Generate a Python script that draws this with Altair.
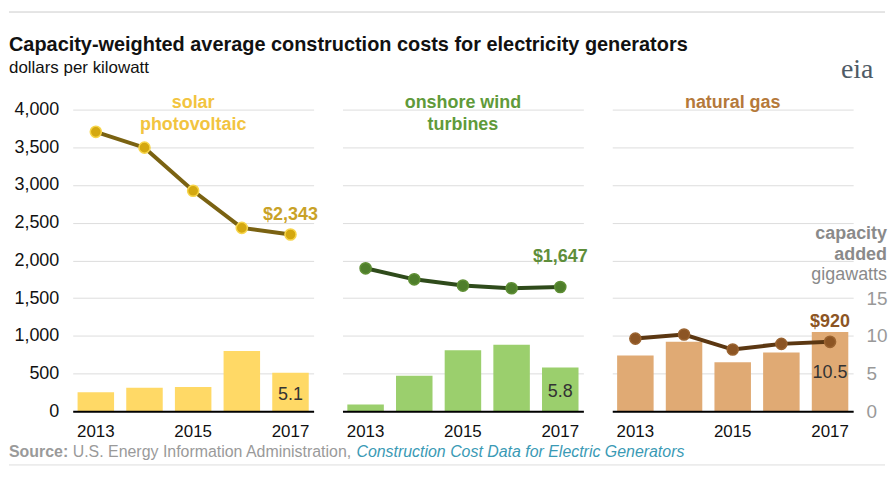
import altair as alt
import pandas as pd

years = [2013, 2014, 2015, 2016, 2017]
solar_cost = [3705, 3495, 2923, 2431, 2343]
wind_cost = [1895, 1749, 1666, 1631, 1647]
gas_cost = [963, 1017, 818, 893, 920]
solar_gw = [2.5, 3.1, 3.2, 8.0, 5.1]
wind_gw = [0.9, 4.7, 8.1, 8.8, 5.8]
gas_gw = [7.4, 9.2, 6.5, 7.8, 10.5]

panel_names = [["solar", "photovoltaic"], ["onshore wind", "turbines"], ["natural gas"]]
cost_labels = ["$2,343", "$1,647", "$920"]
gw_labels = ["5.1", "5.8", "10.5"]
x_label_years = [2013, 2015, 2017]
cost_ticks = [0, 500, 1000, 1500, 2000, 2500, 3000, 3500, 4000]
gw_ticks = [0, 5, 10, 15]

title_text = "Capacity-weighted average construction costs for electricity generators"
subtitle_text = "dollars per kilowatt"
source_parts = ["Source:", "U.S. Energy Information Administration,",
                "Construction Cost Data for Electric Generators"]
right_title = ["capacity", "added", "gigawatts"]

W, H = 242, 303
SANS = "Liberation Sans, Arial, sans-serif"

styles = [
    dict(bar="#FFD966", line="#7A6212", point="#D4A810", ring="#F7D54A",
         title="#F2C440", label="#C9A227", cost_dy=-20, gw_dy=22),
    dict(bar="#9BCF6D", line="#2F4B1B", point="#4E7E2B", ring="#5E8E34",
         title="#5F9A3A", label="#5E8E3A", cost_dy=-30, gw_dy=25),
    dict(bar="#E0AA74", line="#5B3712", point="#8C5524", ring="#9A6330",
         title="#B5793A", label="#8C5524", cost_dy=-20, gw_dy=41),
]


def one():
    return alt.Chart(pd.DataFrame({"k": [0]}))


def panel(i, cost, gw):
    s = styles[i]
    df = pd.DataFrame({"year": years, "cost": cost, "gw": gw})
    last = pd.DataFrame({"year": [years[-1]], "cost": [cost[-1]], "gw": [gw[-1]],
                         "cl": [cost_labels[i]], "gl": [gw_labels[i]]})
    x = alt.X("year:O", title=None,
              scale=alt.Scale(paddingInner=0.25, paddingOuter=0.1),
              axis=alt.Axis(values=x_label_years, labelAngle=0, ticks=False,
                            domainColor="#000000", domainWidth=2, labelFontSize=17,
                            labelColor="#111111", labelPadding=12, zindex=1, grid=False))
    if i == 0:
        cost_axis = alt.Axis(values=cost_ticks, labelExpr="format(datum.value, ',')",
                             ticks=False, domain=False, grid=True, gridWidth=1,
                             labelFontSize=18, labelColor="#111111", labelPadding=14,
                             gridColor="#DDDDDD", title=None, orient="left")
    else:
        cost_axis = alt.Axis(values=cost_ticks, labels=False, ticks=False, domain=False,
                             grid=True, gridWidth=1,
                             gridColor="#DDDDDD", title=None, orient="left")
    cost_y = alt.Y("cost:Q", scale=alt.Scale(domain=[0, 4000], nice=False), axis=cost_axis)
    if i == 2:
        gw_axis = alt.Axis(values=gw_ticks, orient="right", grid=False, ticks=False,
                           domain=False, labelFontSize=19, labelColor="#999999",
                           labelAlign="left", labelPadding=13, title=None)
    else:
        gw_axis = None
    gw_y = alt.Y("gw:Q", scale=alt.Scale(domain=[0, 40], nice=False), axis=gw_axis)

    bars = alt.Chart(df).mark_bar(color=s["bar"]).encode(x=x, y=gw_y)
    gw_text = alt.Chart(last).mark_text(fontSize=18, color="#333333", baseline="middle",
                                        dy=s["gw_dy"]).encode(x=x, y=gw_y, text="gl:N")
    bar_group = alt.layer(bars, gw_text)

    line = alt.Chart(df).mark_line(color=s["line"], strokeWidth=4).encode(x=x, y=cost_y)
    pts = alt.Chart(df).mark_circle(size=125, color=s["point"], stroke=s["ring"],
                                    strokeWidth=1.5, opacity=1).encode(x=x, y=cost_y)
    cost_text = alt.Chart(last).mark_text(fontSize=18, fontWeight="bold", color=s["label"],
                                          baseline="middle", dy=s["cost_dy"]).encode(
        x=x, y=cost_y, text="cl:N")
    cost_group = alt.layer(line, pts, cost_text)

    name = one().mark_text(text=panel_names[i], fontSize=18, fontWeight="bold",
                           color=s["title"], align="center", baseline="alphabetic",
                           lineHeight=23).encode(x=alt.value(W / 2), y=alt.value(-2))
    extras = [name]

    if i == 0:
        extras += [
            one().mark_rule(color="#CCCCCC", strokeWidth=1).encode(
                x=alt.value(-64), x2=alt.value(816), y=alt.value(-98)),
            one().mark_rule(color="#DDDDDD", strokeWidth=1).encode(
                x=alt.value(-64), x2=alt.value(816), y=alt.value(357)),
            one().mark_text(text=title_text, fontSize=20, fontWeight="bold",
                            color="#111111", align="left", baseline="alphabetic").encode(
                x=alt.value(-64), y=alt.value(-59)),
            one().mark_text(text=subtitle_text, fontSize=17,
                            color="#111111", align="left", baseline="alphabetic").encode(
                x=alt.value(-64), y=alt.value(-37)),
            one().mark_text(text="eia", font="Liberation Serif, DejaVu Serif, serif",
                            fontSize=28, color="#4F5B66", align="center",
                            baseline="alphabetic").encode(x=alt.value(788), y=alt.value(-32)),
            one().mark_text(text=source_parts[0], fontSize=16, fontWeight="bold",
                            color="#9A9A9A", align="left", baseline="alphabetic").encode(
                x=alt.value(-64), y=alt.value(349)),
            one().mark_text(text=source_parts[1], fontSize=16,
                            color="#9A9A9A", align="left", baseline="alphabetic").encode(
                x=alt.value(0), y=alt.value(349)),
            one().mark_text(text=source_parts[2], fontSize=16, fontStyle="italic",
                            color="#3A9AB5", align="left", baseline="alphabetic").encode(
                x=alt.value(285), y=alt.value(349)),
        ]
    if i == 2:
        ys = [130, 151, 171]
        for j, t in enumerate(right_title):
            extras.append(one().mark_text(
                text=t, fontSize=18, fontWeight="bold" if j < 2 else "normal",
                color="#8A8A8A", align="right", baseline="alphabetic").encode(
                x=alt.value(276), y=alt.value(ys[j])))

    return alt.layer(bar_group, cost_group, *extras).resolve_scale(y="independent").properties(
        width=W, height=H)


p1 = panel(0, solar_cost, solar_gw)
p2 = panel(1, wind_cost, wind_gw)
p3 = panel(2, gas_cost, gas_gw)

chart = alt.hconcat(p1, p2, p3, spacing=29, bounds="flush").properties(
    padding={"left": 0, "top": 2, "right": 0, "bottom": 0}
).configure(font=SANS).configure_view(stroke="transparent")

chart.save("out.html", embed_options={"renderer": "svg", "actions": False})
